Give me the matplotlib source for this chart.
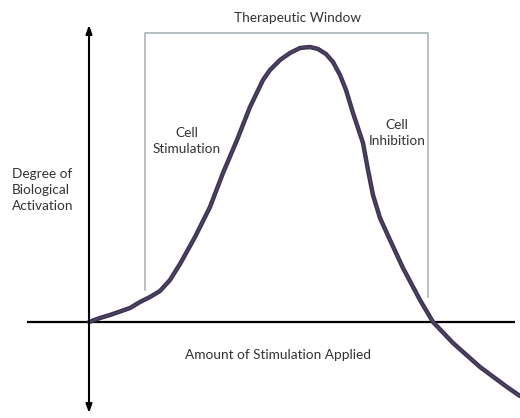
import matplotlib
matplotlib.use("Agg")
import matplotlib.pyplot as plt

# dose-response (hormesis) curve, origin at the axis crossing
curve_x = [0, 11, 21, 41, 51, 61, 71, 81, 91, 106, 121, 134, 148, 161, 174,
           181, 191, 201, 211, 221, 229, 237, 244, 251, 257, 264, 274, 279,
           284, 291, 301, 314, 331, 344, 364, 391, 418, 431]
curve_y = [0, 4, 7, 14, 20, 25, 31, 42, 58, 85, 115, 149, 182, 215, 242,
           252, 262, 269, 274, 275, 273, 268, 260, 247, 232, 209, 179, 152,
           127, 104, 82, 54, 22, 0, -21, -45, -65, -74]

# therapeutic window bracket: left x, right x, top y, left/right bottoms
window_x = [56, 56, 339, 339]
window_y = [32, 289, 289, 25]

title_text = "Therapeutic Window"
y_label = "Degree of\nBiological\nActivation"
x_label = "Amount of Stimulation Applied"
stim_label = "Cell\nStimulation"
inhib_label = "Cell\nInhibition"

plt.rcParams["font.family"] = ["Lato", "DejaVu Sans"]
TXT = "#333333"

fig = plt.figure(figsize=(5.2, 4.18), dpi=100)
ax = fig.add_axes([0, 0, 1, 1])
ax.set_xlim(-89, 431)
ax.set_ylim(-96, 322)
ax.axis("off")

# axes with arrows
ax.plot([-62, 426], [0, 0], color="black", lw=1.6, solid_capstyle="butt")
ax.annotate("", xy=(0, 297), xytext=(0, -91),
            arrowprops=dict(arrowstyle="<|-|>,head_length=0.5,head_width=0.18",
                            color="black", lw=1.5, shrinkA=0, shrinkB=0))

# therapeutic window bracket
ax.plot(window_x, window_y, color="#a3adb3", lw=1.1)

# curve
ax.plot(curve_x, curve_y, color="#3e3352", lw=3.2,
        solid_capstyle="round", solid_joinstyle="round")
ax.plot(curve_x, curve_y, color="#6d6484", lw=0.7, alpha=0.5)

fs = 9.8
ax.text(209, 304, title_text, ha="center", va="center", fontsize=fs, color=TXT)
ax.text(-77, 132, y_label, ha="left", va="center", fontsize=fs, color=TXT,
        linespacing=1.4)
ax.text(189, -33, x_label, ha="center", va="center", fontsize=fs, color=TXT)
ax.text(98, 181, stim_label, ha="center", va="center", fontsize=fs, color=TXT,
        linespacing=1.35)
ax.text(308, 189, inhib_label, ha="center", va="center", fontsize=fs, color=TXT,
        linespacing=1.35)

fig.savefig("out.png", dpi=100, facecolor="white")
